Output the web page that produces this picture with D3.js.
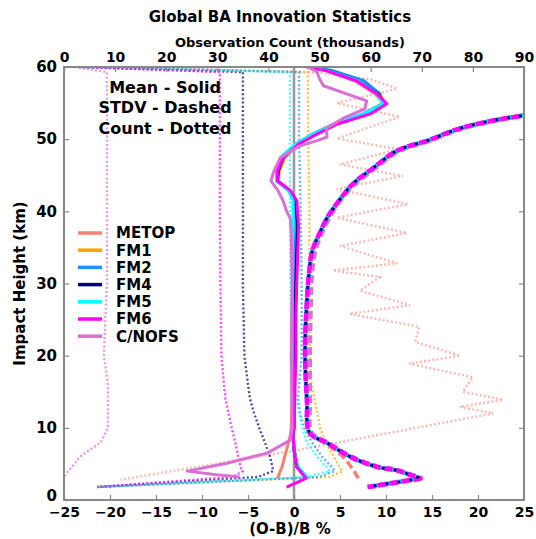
<!DOCTYPE html>
<html>
<head>
<meta charset="utf-8">
<script src="https://cdn.jsdelivr.net/npm/d3@7"></script>
<style>
body { margin: 0; background: #fff; }
text { font-family: "DejaVu Sans", sans-serif; font-weight: bold; }
</style>
</head>
<body>
<script>
// series names and colours
var series = ['METOP', 'FM1', 'FM2', 'FM4', 'FM5', 'FM6', 'C/NOFS'];
var colors = ['#fa8072', '#ffa500', '#1e90ff', '#000080', '#00ffff', '#ff00ff', '#da70d6'];

var xTicks = [-25, -20, -15, -10, -5, 0, 5, 10, 15, 20, 25];
var countTicks = [0, 10, 20, 30, 40, 50, 60, 70, 80, 90];
var yTicks = [0, 10, 20, 30, 40, 50, 60];

// mean (O-B)/B %, solid
var hMean = [60, 59.5, 58.1, 56.3, 54.9, 53.5, 52.1, 50.7, 49.4, 47.4, 45.6, 44.2, 42.9, 41.5, 38, 34, 30, 25, 20, 15, 10, 9, 7, 4.6, 3.0, 1.8];
var meanMETOP = [1.3, 3.4, 6.6, 8.8, 9.8, 8.1, 4.6, 2.4, 0.5, -1.1, -1.7, -1.7, -0.5, 0.1, 0.2, 0.1, 0.0, -0.1, -0.1, -0.2, -0.3, -0.4, -0.8, -1.3, -1.8];
var meanFM1 = [1.4, 3.6, 7.2, 9.4, 9.8, 7.8, 4.5, 2.3, 0.5, -1.0, -1.6, -1.7, -0.5, 0.1, 0.3, 0.2, 0.1, 0.1, 0.0, 0.0, -0.1, -0.1, 0.0, 0.3, 1.4];
var meanFM2 = [1.6, 4.2, 7.6, 9.3, 9.6, 7.5, 4.3, 2.0, 0.3, -1.4, -1.9, -1.9, -0.6, 0.0, 0.2, 0.1, 0.0, 0.0, -0.1, -0.1, -0.1, -0.1, 0.0, 0.4, 1.5];
var meanFM4 = [1.5, 3.8, 7.0, 9.1, 9.9, 8.0, 4.6, 2.4, 0.5, -1.2, -1.7, -1.8, -0.5, 0.2, 0.4, 0.3, 0.2, 0.1, 0.1, 0.0, 0.0, -0.1, 0.0, 0.3, 1.4];
var meanFM5 = [1.5, 3.7, 7.0, 9.0, 9.7, 7.6, 4.4, 2.1, 0.2, -1.5, -1.9, -1.9, -0.6, -0.1, -0.1, -0.2, -0.2, -0.2, -0.2, -0.2, -0.1, -0.1, 0.0, 0.4, 1.5];
var meanFM6 = [1.5, 3.5, 6.8, 9.0, 10.1, 8.3, 4.7, 2.5, 0.6, -1.2, -1.8, -1.8, -0.4, 0.3, 0.5, 0.4, 0.3, 0.2, 0.2, 0.1, 0.0, -0.1, 0.0, 0.3, 1.3, -0.8];
var hMeanCNOFS = [60, 59.3, 58.3, 57.4, 55.3, 54.2, 53.0, 51.5, 50.3, 49.8, 49.0, 47.4, 45.5, 44.2, 43.0, 41.5, 40.0, 39.0, 37.0, 30.0, 20.0, 10.0, 8.3, 6.5, 5.1, 4.0, 3.5, 3.2];
var meanCNOFS = [1.5, 2.5, 2.8, 3.2, 7.9, 7.7, 5.5, 3.5, 3.6, 2.5, 0.5, -1.5, -2.2, -2.5, -1.8, -1.2, -0.8, -0.4, -0.3, -0.2, -0.3, -0.2, -0.4, -2.9, -7.3, -11.6, -8.4, -5.9];

// standard deviation %, dashed
var hStd = [58, 55, 53.3, 52.5, 51.4, 49.8, 48.4, 46, 43.8, 41.5, 39.1, 37, 34.6, 31, 27.6, 20.7, 13.8, 9.3, 7.9, 6.0, 4.6, 4.1, 3.4, 3.0, 2.8, 1.8];
var stdFM = [45, 33, 25, 21.3, 17.8, 14.5, 11.2, 8.6, 6.4, 4.9, 3.6, 2.8, 2.0, 1.6, 1.4, 1.2, 1.4, 1.7, 3.6, 6.1, 9.0, 11.2, 12.8, 13.7, 12.8, 8.0];
var stdMETOP = [45, 33, 25, 21.3, 17.8, 14.5, 11.2, 8.6, 6.4, 4.9, 3.6, 2.8, 2.0, 1.6, 1.4, 1.2, 1.4, 1.7, 3.4, 5.3, 6.2, 6.5, 6.8, 7.0];
var stdCNOFS = [45, 33, 25, 21.5, 18.0, 14.7, 11.4, 8.8, 6.6, 5.0, 3.8, 3.0, 2.3, 1.9, 1.8, 1.7, 1.7, 1.9, 3.7, 6.2, 9.1, 11.3, 12.9, 13.8, 12.9, 8.2];

// observation count (thousands), dotted
var hCount = [60, 59.3, 50, 40, 30, 20, 16, 14, 12, 10, 8, 6, 4.5, 4.0, 3.2, 1.8];
var countFM1 = [4, 47.7, 47.8, 48, 48, 48.1, 48.4, 49, 49.6, 50.1, 51.2, 52.8, 54, 54.5, 52, 6.5];
var countFM2 = [4, 46, 46, 46.3, 46.5, 46.5, 46, 45.8, 46.2, 47, 48.5, 50.5, 52.5, 53, 50, 6.5];
var countFM4 = [3, 35, 35, 35, 35, 35.3, 36, 36.4, 37.2, 38.2, 39.3, 40.3, 40.8, 40.9, 38, 6.5];
var countFM5 = [3, 44.2, 44.2, 44.2, 44.3, 44.5, 45, 45.5, 46, 46.6, 47.5, 49.5, 51.5, 52, 47.5, 6.5];
var countFM6 = [3, 30.5, 30.5, 30.5, 30.6, 30.8, 31.3, 31.6, 32.2, 32.8, 33.5, 34.1, 34.6, 35, 33, 6.5];
var countCNOFS = [2, 8.4, 8.4, 8.4, 8.4, 7.8, 8.6, 8.6, 8.6, 8.6, 7.2, 3.1, 1.5, 0.8, 0];
var hCountMETOP = [60, 59.6, 59.2, 58.3, 57.0, 55.0, 53.1, 50.1, 48.6, 46.5, 44.9, 43.1, 41.0, 39.1, 37.0, 35.2, 32.8, 31.8, 30.9, 29.0, 27.0, 25.8, 24.0, 21.9, 20.0, 18.9, 17.0, 15.0, 13.9, 12.9, 12.0, 6.9, 2.8];
var countMETOP = [5, 30, 50, 60, 65.2, 53.4, 65.7, 53.4, 65.5, 54, 66.3, 53.4, 67.3, 53.4, 67.1, 54, 65.2, 52.6, 61.8, 57.9, 67.7, 55.8, 69.5, 68.7, 77.5, 67.5, 80, 78, 85.9, 77.5, 84, 45.6, 11];

function zip(h, v) { return v.map(function(d, i){ return [h[i], d]; }); }

var data = [
	{mean: zip(hMean, meanMETOP), std: zip(hStd, stdMETOP), count: zip(hCountMETOP, countMETOP)},
	{mean: zip(hMean, meanFM1), std: zip(hStd, stdFM), count: zip(hCount, countFM1)},
	{mean: zip(hMean, meanFM2), std: zip(hStd, stdFM), count: zip(hCount, countFM2)},
	{mean: zip(hMean, meanFM4), std: zip(hStd, stdFM), count: zip(hCount, countFM4)},
	{mean: zip(hMean, meanFM5), std: zip(hStd, stdFM), count: zip(hCount, countFM5)},
	{mean: zip(hMean, meanFM6), std: zip(hStd, stdFM), count: zip(hCount, countFM6)},
	{mean: zip(hMeanCNOFS, meanCNOFS), std: zip(hStd, stdCNOFS), count: zip(hCount, countCNOFS)}
];
data.forEach(function(d, i){ d.name = series[i]; d.color = colors[i]; d.i = i; });

var L = 64, R = 524, T = 67, B = 500;
var svg = d3.select('body').append('svg').attr('width', 536).attr('height', 539);
var x = d3.scaleLinear().domain([-25, 25]).range([L, R]);
var xc = d3.scaleLinear().domain([0, 90]).range([L, R]);
var y = d3.scaleLinear().domain([0, 60]).range([B, T]);

svg.append('defs').append('clipPath').attr('id', 'clip')
	.append('rect').attr('x', L).attr('y', T).attr('width', R - L).attr('height', B - T);

var plot = svg.append('g').attr('clip-path', 'url(#clip)');
// zero line
plot.append('line').attr('x1', x(0)).attr('x2', x(0)).attr('y1', T).attr('y2', B)
	.attr('stroke', '#999').attr('stroke-width', 2.5);

var lineMean = d3.line().x(d => x(d[1])).y(d => y(d[0]));
var lineStd = d3.line().x(d => x(d[1])).y(d => y(d[0])).curve(d3.curveCatmullRom.alpha(0.5));
var lineCount = d3.line().x(d => xc(d[1])).y(d => y(d[0]));

// counts (dotted)
plot.selectAll('.count').data(data).enter().append('path')
	.attr('class', 'count')
	.attr('d', d => lineCount(d.count))
	.attr('fill', 'none').attr('stroke', d => d.color)
	.attr('stroke-width', 2.4).attr('stroke-dasharray', '2,2.2')
	.attr('stroke-opacity', (d, i) => i == 0 ? 0.55 : 0.7);

// means (solid)
plot.selectAll('.mean').data(data).enter().append('path')
	.attr('class', 'mean')
	.attr('d', d => lineMean(d.mean))
	.attr('fill', 'none').attr('stroke', d => d.color)
	.attr('stroke-width', 3).attr('stroke-linejoin', 'round');

// stdv (dashed) - drawn in an order that lets the colours interleave
var stdOrder = [0, 6, 1, 2, 4, 5, 3];
var dashStyle = {
	0: ['8,4', 0, 3.5], 6: ['8,4', 4, 5], 1: ['8,4', 2, 4], 2: ['8,4', 6, 4],
	4: ['8,4', 9, 4], 5: ['8,4', 0, 4.5], 3: ['3,9', -9, 3]
};
plot.selectAll('.std').data(stdOrder.map(i => data[i])).enter().append('path')
	.attr('class', 'std')
	.attr('d', d => lineStd(d.std))
	.attr('fill', 'none').attr('stroke', d => d.color)
	.attr('stroke-width', d => dashStyle[d.i][2])
	.attr('stroke-dasharray', d => dashStyle[d.i][0])
	.attr('stroke-dashoffset', d => dashStyle[d.i][1]);

// frame
svg.append('rect').attr('x', L).attr('y', T).attr('width', R - L).attr('height', B - T)
	.attr('fill', 'none').attr('stroke', '#888').attr('stroke-width', 2);

// axes
function styleAxis(g, size) {
	g.select('.domain').remove();
	g.selectAll('.tick line').attr('stroke', '#888').attr('stroke-width', 1.2);
	g.selectAll('.tick text').attr('fill', '#000').style('font-size', size + 'px');
}
svg.append('g').attr('transform', 'translate(0,' + B + ')')
	.call(d3.axisBottom(x).tickValues(xTicks).tickSizeInner(-5).tickSizeOuter(0).tickPadding(7))
	.call(g => styleAxis(g, 14));
svg.append('g').attr('transform', 'translate(0,' + T + ')')
	.call(d3.axisTop(xc).tickValues(countTicks).tickSizeInner(-5).tickSizeOuter(0).tickPadding(5))
	.call(g => styleAxis(g, 14));
svg.append('g').attr('transform', 'translate(' + L + ',0)')
	.call(d3.axisLeft(y).tickValues(yTicks).tickSizeInner(-5).tickSizeOuter(0).tickPadding(7))
	.call(g => styleAxis(g, 15))
	.call(g => g.selectAll('.tick text').filter(d => d == 0).attr('dy', '0em'));
svg.append('g').attr('transform', 'translate(' + R + ',0)')
	.call(d3.axisRight(y).tickValues(yTicks).tickSizeInner(-5).tickSizeOuter(0).tickFormat(''))
	.call(g => styleAxis(g, 15));

// titles
svg.append('text').attr('x', 280).attr('y', 22).attr('text-anchor', 'middle')
	.style('font-size', '15px').text('Global BA Innovation Statistics');
svg.append('text').attr('x', 290).attr('y', 47).attr('text-anchor', 'middle')
	.style('font-size', '13px').text('Observation Count (thousands)');
svg.append('text').attr('x', 290).attr('y', 534).attr('text-anchor', 'middle')
	.style('font-size', '15px').text('(O-B)/B %');
svg.append('text').attr('transform', 'translate(25,' + ((T + B) / 2) + ') rotate(-90)')
	.attr('text-anchor', 'middle').style('font-size', '15px').text('Impact Height (km)');

// line style notes
var notes = ['Mean - Solid', 'STDV - Dashed', 'Count - Dotted'];
svg.selectAll('.note').data(notes).enter().append('text')
	.attr('class', 'note').attr('x', 165).attr('y', (d, i) => 93 + i * 20.3)
	.attr('text-anchor', 'middle').style('font-size', '16px').text(d => d);

// legend
var leg = svg.selectAll('.leg').data(data).enter().append('g')
	.attr('class', 'leg').attr('transform', (d, i) => 'translate(78,' + (233 + i * 17.2) + ')');
leg.append('line').attr('x1', 0).attr('x2', 24).attr('stroke', d => d.color).attr('stroke-width', 3.5);
leg.append('text').attr('x', 38).attr('dy', '0.36em').style('font-size', '15px').text(d => d.name);
</script>
</body>
</html>
